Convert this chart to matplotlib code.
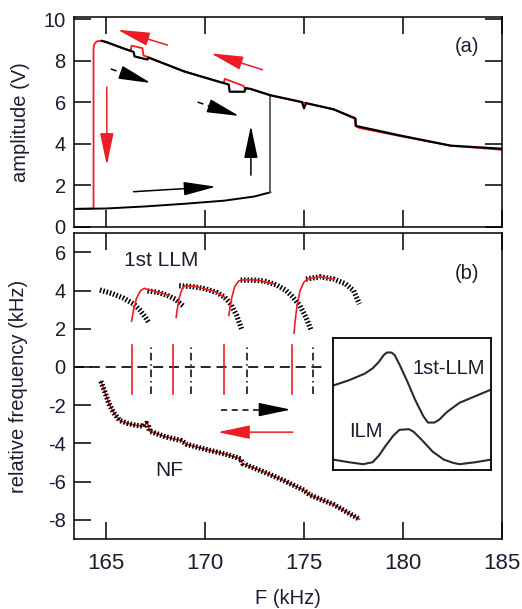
import matplotlib
matplotlib.use('Agg')
import matplotlib.pyplot as plt

plt.rcParams['font.family'] = ['Liberation Sans', 'DejaVu Sans']
plt.rcParams['axes.unicode_minus'] = False

RED = '#ee1c24'
TXT = '#1c1c30'

# ---- panel (a): amplitude vs drive frequency ----
# sweep up, low branch (black)
F_low = [163.4, 165.0, 167.0, 169.0, 171.0, 172.5, 173.3]
A_low = [0.85, 0.87, 0.97, 1.1, 1.25, 1.45, 1.65]
# jump at the end of the low branch
F_jump = [173.3, 173.3]
A_jump = [1.65, 6.33]
# high branch (black)
F_hi = [164.8, 165.0, 166.0, 166.4, 166.45, 167.1, 167.15, 168.95, 170.64, 171.2,
        171.25, 172.0, 172.05, 172.32, 173.3, 174.9, 175.0, 175.1, 176.5, 177.6,
        177.62, 179.9, 182.4, 185.0]
A_hi = [8.95, 8.9, 8.55, 8.42, 8.2, 8.05, 8.15, 7.48, 7.0, 6.85,
        6.5, 6.5, 6.68, 6.63, 6.33, 6.0, 5.7, 5.95, 5.65, 5.2,
        4.85, 4.38, 3.9, 3.75]
# sweep down (red)
F_red = [163.4, 164.38, 164.38, 164.43, 164.55, 164.75, 165.0, 166.0, 166.25, 166.3,
         166.85, 166.9, 167.27, 168.95, 170.64, 170.95, 171.0, 171.95, 172.0, 172.32,
         173.3, 175.0, 176.5, 177.55, 177.6, 177.8, 179.9, 182.4, 185.0]
A_red = [0.85, 0.87, 8.6, 8.82, 8.93, 8.96, 8.9, 8.55, 8.47, 8.72,
         8.6, 8.25, 8.11, 7.48, 7.0, 6.92, 7.12, 6.78, 6.65, 6.63,
         6.33, 5.97, 5.65, 5.25, 4.85, 4.75, 4.35, 3.9, 3.7]

# ---- panel (b): relative frequency ----
llm_black = [
    ([164.7, 165.3, 165.9, 166.4, 166.7, 167.0, 167.15],
     [4.03, 3.85, 3.6, 3.3, 3.0, 2.6, 2.35]),
    ([167.1, 167.6, 168.1, 168.5, 168.9],
     [3.98, 3.92, 3.75, 3.55, 3.2]),
    ([168.7, 169.3, 170.0, 170.6, 171.0, 171.3, 171.6, 171.85],
     [4.25, 4.22, 4.1, 3.9, 3.65, 3.3, 2.7, 2.0]),
    ([171.8, 172.4, 173.0, 173.6, 174.1, 174.4, 174.8, 175.1, 175.35],
     [4.55, 4.55, 4.5, 4.3, 4.0, 3.7, 3.2, 2.6, 1.95]),
    ([175.1, 175.8, 176.5, 177.1, 177.5, 177.8],
     [4.6, 4.72, 4.6, 4.35, 4.0, 3.3]),
]
llm_red = [
    ([174.5, 174.55, 174.65, 174.8, 175.0, 175.2, 175.8, 176.5],
     [1.77, 2.4, 3.2, 4.0, 4.45, 4.62, 4.72, 4.6]),
    ([171.2, 171.25, 171.35, 171.5, 171.7, 172.0, 172.6, 173.5],
     [2.7, 3.0, 3.6, 4.2, 4.5, 4.57, 4.55, 4.35]),
    ([168.55, 168.6, 168.7, 168.85, 169.0, 169.5, 170.5, 171.0],
     [2.6, 3.0, 3.6, 4.1, 4.25, 4.22, 3.95, 3.65]),
    ([166.3, 166.4, 166.55, 166.75, 166.95, 167.1, 167.5, 168.2],
     [2.4, 3.0, 3.6, 4.0, 4.12, 4.05, 3.95, 3.75]),
]
F_nf = [164.75, 164.95, 165.15, 165.4, 165.7, 166.1, 166.5, 166.9, 167.05, 167.15,
        167.2, 168.0, 168.8, 169.1, 170.0, 171.0, 171.8, 171.9, 173.0, 174.0,
        175.0, 175.3, 176.5, 177.8]
y_nf = [-0.75, -1.3, -1.9, -2.4, -2.8, -2.95, -3.05, -3.1, -2.95, -3.05,
        -3.35, -3.65, -3.85, -4.05, -4.3, -4.55, -4.8, -5.05, -5.5, -5.95,
        -6.45, -6.7, -7.2, -7.97]
F_red_marks = [166.31, 168.37, 170.94, 174.38]
F_black_marks = [167.26, 169.29, 172.14, 175.45]

# inset: mode profiles
x_llm = [0, 0.1, 0.2, 0.25, 0.29, 0.32, 0.34, 0.37, 0.39, 0.42, 0.47, 0.52, 0.57,
         0.6, 0.64, 0.67, 0.72, 0.8, 0.9, 1.0]
y_llm = [0.64, 0.68, 0.73, 0.77, 0.82, 0.87, 0.89, 0.89, 0.87, 0.8, 0.67, 0.53, 0.41,
         0.36, 0.36, 0.38, 0.44, 0.51, 0.56, 0.61]
x_ilm = [0, 0.1, 0.19, 0.25, 0.29, 0.33, 0.38, 0.42, 0.48, 0.51, 0.56, 0.63, 0.7,
         0.76, 0.8, 0.9, 1.0]
y_ilm = [0.08, 0.06, 0.045, 0.06, 0.11, 0.18, 0.26, 0.305, 0.31, 0.29, 0.23, 0.14, 0.08,
         0.055, 0.045, 0.06, 0.08]

fig = plt.figure(figsize=(5.22, 6.09), dpi=100)
ax1 = fig.add_axes([0.142, 0.628, 0.820, 0.344])
ax2 = fig.add_axes([0.142, 0.115, 0.820, 0.502])

FS = 14.5
LFS = 14.5
HEAD_PX = 28


def arrow(ax, x0, y0, x1, y1, color, dashed=False):
    style = '-|>,head_length=2.0,head_width=0.42'
    if not dashed:
        ax.annotate('', xy=(x1, y1), xytext=(x0, y0),
                    arrowprops=dict(arrowstyle=style, color=color, lw=1.1,
                                    shrinkA=0, shrinkB=0, mutation_scale=10))
        return
    # dashed shaft, solid head
    p0 = ax.transData.transform((x0, y0))
    p1 = ax.transData.transform((x1, y1))
    d = ((p1[0] - p0[0]) ** 2 + (p1[1] - p0[1]) ** 2) ** 0.5
    f = min(1.0, (HEAD_PX + 1) / d)
    xm = x1 - f * (x1 - x0)
    ym = y1 - f * (y1 - y0)
    ax.plot([x0, xm], [y0, ym], color=color, lw=1.1, ls=(0, (4, 3)))
    ax.annotate('', xy=(x1, y1), xytext=(xm, ym),
                arrowprops=dict(arrowstyle=style, color=color, lw=1.1,
                                shrinkA=0, shrinkB=0, mutation_scale=10))


# panel (a)
ax1.set_xlim(163.4, 185)
ax1.set_ylim(0, 10.1)
ax1.plot(F_red, A_red, color=RED, lw=1.3, zorder=2)
ax1.plot(F_low, A_low, color='k', lw=1.4, zorder=3)
ax1.plot(F_jump, A_jump, color='#555555', lw=1.3, zorder=3)
ax1.plot(F_hi, A_hi, color='k', lw=1.6, zorder=3)

arrow(ax1, 168.11, 8.75, 165.59, 9.49, RED)
arrow(ax1, 172.91, 7.56, 170.30, 8.35, RED)
arrow(ax1, 165.25, 7.6, 167.27, 6.92, 'k', dashed=True)
arrow(ax1, 169.63, 6.0, 171.73, 5.33, 'k', dashed=True)
arrow(ax1, 165.05, 6.73, 165.05, 2.95, RED)
arrow(ax1, 172.32, 2.48, 172.32, 4.86, 'k')
arrow(ax1, 166.4, 1.68, 170.56, 1.92, 'k')

ax1.text(182.6, 8.7, '(a)', fontsize=FS, color=TXT, va='center')
ax1.set_yticks([0, 2, 4, 6, 8, 10])
ax1.set_xticks([165, 170, 175, 180, 185])
ax1.set_xticklabels([])
ax1.tick_params(direction='in', length=12, width=1.1, top=True, right=True,
                labelsize=FS, labelcolor=TXT, pad=6)
ax1.set_ylabel('amplitude (V)', fontsize=LFS, color=TXT)
ax1.yaxis.set_label_coords(-0.103, 0.5)

# panel (b)
ax2.set_xlim(163.4, 185)
ax2.set_ylim(-9, 7)
ax2.plot([163.4, 176.03], [0, 0], color='k', lw=1.2, ls=(0, (6, 3.5)))
for f in F_red_marks:
    ax2.plot([f, f], [-1.39, 1.17], color=RED, lw=1.2)
for f in F_black_marks:
    ax2.plot([f, f], [-1.39, 1.17], color='k', lw=1.1, ls=(0, (5, 2.5, 1, 2.5)))

ax2.plot(F_nf, y_nf, color=RED, lw=1.2, zorder=2)
ax2.plot(F_nf, y_nf, color='k', lw=3.8, ls=(0, (0.3, 0.35)), zorder=3)
for fx, fy in llm_black:
    ax2.plot(fx, fy, color='k', lw=3.8, ls=(0, (0.3, 0.35)), zorder=3)
for fx, fy in llm_red:
    ax2.plot(fx, fy, color=RED, lw=1.2, zorder=4)

arrow(ax2, 170.81, -2.23, 174.34, -2.23, 'k', dashed=True)
arrow(ax2, 174.43, -3.41, 170.64, -3.41, RED)

ax2.text(165.93, 5.55, '1st LLM', fontsize=FS + 0.5, color=TXT, va='center')
ax2.text(182.6, 4.9, '(b)', fontsize=FS, color=TXT, va='center')
ax2.text(167.5, -5.44, 'NF', fontsize=FS + 0.5, color=TXT, va='center')

ax2.set_yticks([-8, -6, -4, -2, 0, 2, 4, 6])
ax2.set_xticks([165, 170, 175, 180, 185])
ax2.tick_params(direction='in', length=12, width=1.1, top=True, right=False,
                labelsize=FS, labelcolor=TXT)
ax2.tick_params(axis='y', pad=6)
ax2.tick_params(axis='x', pad=10, labelsize=16)
ax2.set_ylabel('relative frequency (kHz)', fontsize=LFS, color=TXT)
ax2.yaxis.set_label_coords(-0.108, 0.5)
ax2.set_xlabel('F (kHz)', fontsize=LFS, color=TXT)
ax2.xaxis.set_label_coords(0.5, -0.165)

for ax in (ax1, ax2):
    for s in ax.spines.values():
        s.set_linewidth(1.1)

# inset
axi = fig.add_axes([0.638, 0.228, 0.303, 0.217])
axi.plot(x_llm, y_llm, color='#2a2a2a', lw=1.5)
axi.plot(x_ilm, y_ilm, color='#2a2a2a', lw=1.5)
axi.text(0.5, 0.77, '1st-LLM', fontsize=FS, color=TXT, va='center')
axi.text(0.1, 0.29, 'ILM', fontsize=FS, color=TXT, va='center')
axi.set_xlim(0, 1)
axi.set_ylim(0, 1)
axi.set_xticks([])
axi.set_yticks([])
for s in axi.spines.values():
    s.set_linewidth(1.3)

fig.savefig('out.png', dpi=100)
